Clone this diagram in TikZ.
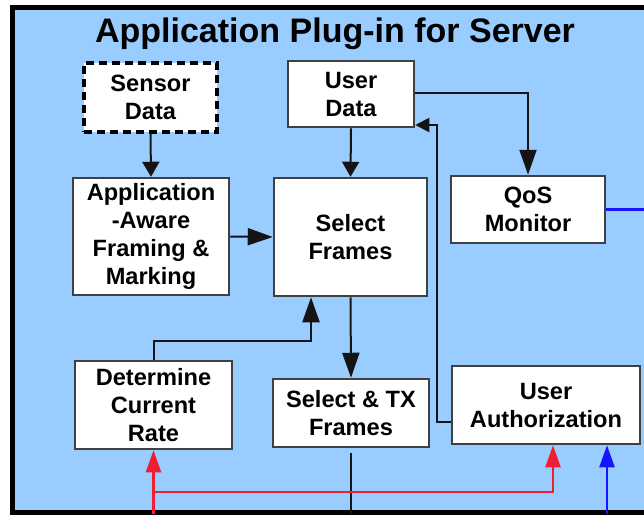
\documentclass[tikz,border=0pt]{standalone}
\usepackage{fontspec}
\setmainfont{Liberation Sans}
\usetikzlibrary{arrows.meta,calc}
\definecolor{panel}{HTML}{99CCFF}
\definecolor{wirered}{HTML}{F01E32}
\definecolor{wireblue}{HTML}{1414FF}
\begin{document}
\begin{tikzpicture}[x=1pt,y=-1pt,
  box/.style={draw=black!75, line width=2.5pt, fill=white, align=center,
    text=black, inner sep=0pt, font=\bfseries\fontsize{23.6}{28}\selectfont},
  dashbox/.style={box, draw=black, line width=4pt, dash pattern=on 8pt off 5pt},
  wire/.style={draw=black!92, line width=2pt},
  tipsmall/.style={-{Triangle[length=15pt,width=17pt]}},
  tipbig/.style={-{Triangle[length=25pt,width=17pt]}},
  redwire/.style={draw=wirered, line width=2.2pt, -{Triangle[length=22pt,width=15pt]}},
  bluewire/.style={draw=wireblue, line width=2.2pt}]
\useasboundingbox (0,0) rectangle (644,515);
% outer panel
\draw[line width=4.5pt, fill=panel] (12.5,7.5) rectangle (680,512.5);
\node[anchor=base, font=\bfseries\fontsize{34}{36}\selectfont] (title) at (335,42) {Application Plug-in for Server};

% blocks
\node[dashbox, minimum width=133pt, minimum height=69pt] (sensor) at (150.5,97.5) {Sensor\\Data};
\node[box, minimum width=126pt, minimum height=66pt] (user) at (351,94) {User\\Data};
\node[box, minimum width=156pt, minimum height=117pt] (app) at (151,236.5) {Application\\-Aware\\Framing \&\\Marking};
\node[box, minimum width=153pt, minimum height=118pt] (sel) at (350.5,237) {Select\\Frames};
\node[box, minimum width=154pt, minimum height=67pt] (qos) at (528,209.5) {QoS\\Monitor};
\node[box, minimum width=157pt, minimum height=88pt] (rate) at (153.5,405) {Determine\\Current\\Rate};
\node[box, minimum width=156pt, minimum height=68pt] (tx) at (351,413) {Select \& TX\\Frames};
\node[box, minimum width=188pt, minimum height=78pt] (auth) at (546,405) {User\\Authorization};

% helper points
\coordinate (fb) at (0,514);
\coordinate (re) at (660,0);
\coordinate (riser) at (437,125);
\coordinate (rbus) at (153.5,492);
\coordinate (bl) at ($(auth.south)+(61,0)$);
\coordinate (rl) at ($(auth.south)+(7,0)$);

% black connectors
\draw[wire, tipsmall] (sensor.south) -- (app.north);
\draw[wire, tipsmall] (user.south) -- (sel.north);
\draw[wire, tipbig] (app.east) -- (sel.west);
\draw[wire, tipbig] ($(user.east)+(0,-1)$) -| (qos.north);
\draw[wire, tipbig] (sel.south) -- (tx.north);
\draw[wire, tipbig] (rate.north) -- ++(0,-19) -| ($(sel.south)+(-39.5,0)$);
\draw[wire, -{Triangle[length=14pt,width=14pt]}] ($(auth.west)+(0,17)$) -| (riser) -- (riser -| user.east);
\draw[wire] ($(tx.south)+(0,5)$) -- (tx.south |- fb);

% red links
\draw[redwire] (rate.south |- fb) -- (rate.south);
\draw[redwire] (rbus) -| (rl);
% blue links
\draw[bluewire] (qos.east) -- (qos.east -| re);
\draw[bluewire, -{Triangle[length=22pt,width=15pt]}] (bl |- fb) -- (bl);
\end{tikzpicture}
\end{document}
